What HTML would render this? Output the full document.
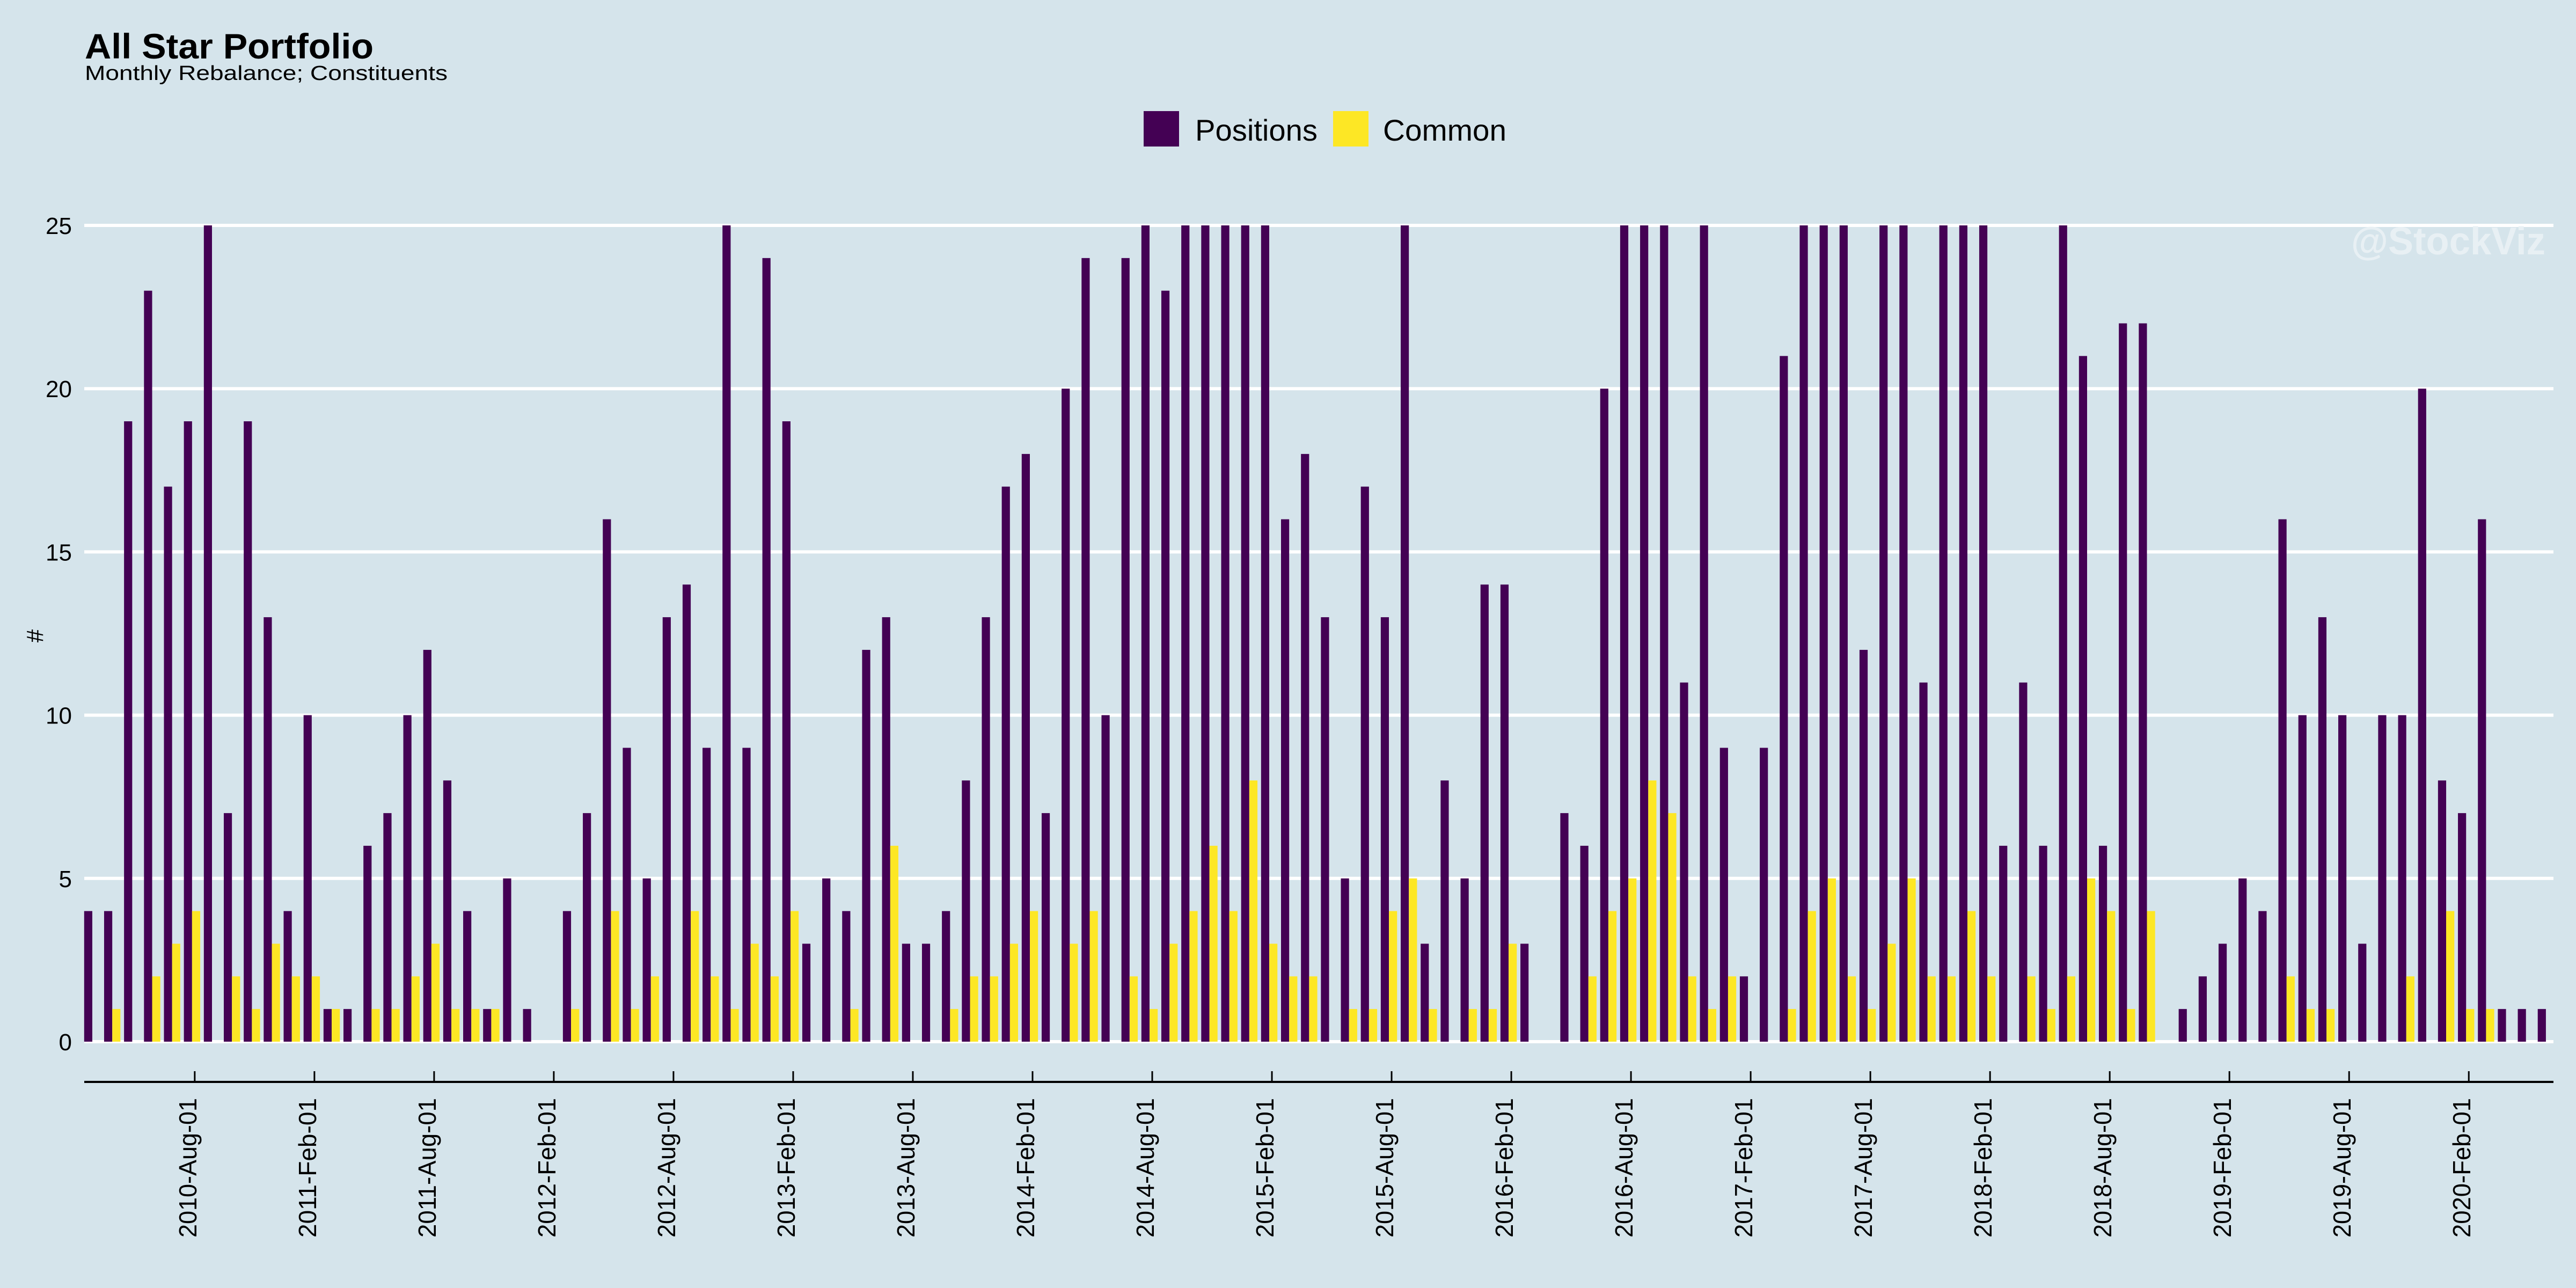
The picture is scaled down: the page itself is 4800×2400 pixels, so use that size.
<!DOCTYPE html>
<html><head><meta charset="utf-8"><style>
html,body{margin:0;padding:0;background:#d5e4eb;}
svg{display:block;font-family:"Liberation Sans",Arial,sans-serif;}
</style></head><body>
<svg id="chart" width="4800" height="2400" viewBox="0 0 4800 2400" xmlns="http://www.w3.org/2000/svg">
<rect x="0" y="0" width="4800" height="2400" fill="#d5e4eb"/>
<text x="158" y="109" font-size="66" font-weight="bold" textLength="538" lengthAdjust="spacingAndGlyphs">All Star Portfolio</text>
<text x="158" y="149" font-size="38" textLength="676" lengthAdjust="spacingAndGlyphs">Monthly Rebalance; Constituents</text>
<g>
<rect x="2131" y="207" width="66" height="66" fill="#440154"/>
<text x="2227" y="262" font-size="56" textLength="228" lengthAdjust="spacingAndGlyphs">Positions</text>
<rect x="2484" y="207" width="66" height="66" fill="#FDE725"/>
<text x="2577" y="262" font-size="56" textLength="230" lengthAdjust="spacingAndGlyphs">Common</text>
</g>
<g id="grid"></g>
<g id="ylabels"></g>
<text transform="translate(80,1185) rotate(-90)" font-size="44" text-anchor="middle">#</text>
<text x="4743" y="474" font-size="72" font-weight="bold" fill="#e8f0f4" text-anchor="end" textLength="362" lengthAdjust="spacingAndGlyphs">@StockViz</text>
<g id="bars"></g>
<line x1="157" y1="2016" x2="4758" y2="2016" stroke="#000" stroke-width="4"/>
<g id="xaxis"></g>
</svg>
<script>
const positions = [4,4,19,23,17,19,25,7,19,13,4,10,1,1,6,7,10,12,8,4,1,5,1,
0,
4,7,16,9,5,13,14,9,25,9,24,19,3,5,4,12,13,
3,3,4,8,13,17,18,7,20,24,10,24,25,23,25,25,25,25,25,16,18,13,5,17,13,25,3,8,5,14,14,3,
0,
7,6,20,25,25,25,11,25,9,2,9,21,25,25,25,12,25,25,11,25,25,25,6,11,6,25,21,6,22,22,
0,
1,2,3,5,4,16,10,13,10,3,10,10,20,8,7,16,1,1,1];
const common = [0,1,0,2,3,4,0,2,1,3,2,2,1,0,1,1,2,3,1,1,1,0,0,
0,
1,0,4,1,2,0,4,2,1,3,2,4,0,0,1,0,6,
0,0,1,2,2,3,4,0,3,4,0,2,1,3,4,6,4,8,3,2,2,0,1,1,4,5,1,0,1,1,3,0,
0,
0,2,4,5,8,7,2,1,2,0,0,1,4,5,2,1,3,5,2,2,4,2,0,2,1,2,5,4,1,4,
0,
0,0,0,0,0,2,1,1,0,0,0,2,0,4,1,1,0,0,0];
const yTicks = [0,5,10,15,20,25];
const xTickLabels = ["2010-Aug-01","2011-Feb-01","2011-Aug-01","2012-Feb-01","2012-Aug-01","2013-Feb-01","2013-Aug-01","2014-Feb-01","2014-Aug-01","2015-Feb-01","2015-Aug-01","2016-Feb-01","2016-Aug-01","2017-Feb-01","2017-Aug-01","2018-Feb-01","2018-Aug-01","2019-Feb-01","2019-Aug-01","2020-Feb-01"];
const xTickMonthIndex = [5,11,17,23,29,35,41,47,53,59,65,71,77,83,89,95,101,107,113,119];

const NS = "http://www.w3.org/2000/svg";
const Y0 = 1941, UNIT = (1941 - 420) / 25;
function yScale(v){ return Y0 - v * UNIT; }
function xScale(i){ return 172 + i * 37.17; }
const BW = 15.2;

const grid = document.getElementById('grid');
const ylab = document.getElementById('ylabels');
yTicks.forEach(function(t){
  const l = document.createElementNS(NS,'line');
  l.setAttribute('x1',157); l.setAttribute('x2',4758);
  l.setAttribute('y1',yScale(t)); l.setAttribute('y2',yScale(t));
  l.setAttribute('stroke','#ffffff'); l.setAttribute('stroke-width',6);
  
  
  grid.appendChild(l);
  const tx = document.createElementNS(NS,'text');
  tx.setAttribute('x',134); tx.setAttribute('y',yScale(t)+16);
  tx.setAttribute('text-anchor','end'); tx.setAttribute('font-size',44);
  tx.textContent = String(t);
  
  
  ylab.appendChild(tx);
});

const bars = document.getElementById('bars');
positions.forEach(function(v,i){
  if (v > 0) {
    const r = document.createElementNS(NS,'rect');
    r.setAttribute('x', xScale(i) - BW); r.setAttribute('width', BW);
    r.setAttribute('y', yScale(v)); r.setAttribute('height', Y0 - yScale(v));
    r.setAttribute('fill','#440154');
    
    
    bars.appendChild(r);
  }
});
common.forEach(function(v,i){
  if (v > 0) {
    const r = document.createElementNS(NS,'rect');
    r.setAttribute('x', xScale(i)); r.setAttribute('width', BW);
    r.setAttribute('y', yScale(v)); r.setAttribute('height', Y0 - yScale(v));
    r.setAttribute('fill','#FDE725');
    
    
    bars.appendChild(r);
  }
});

const xaxis = document.getElementById('xaxis');
xTickLabels.forEach(function(lab,k){
  const x = xScale(xTickMonthIndex[k]) + 5;
  const t = document.createElementNS(NS,'line');
  t.setAttribute('x1',x); t.setAttribute('x2',x);
  t.setAttribute('y1',1996); t.setAttribute('y2',2016);
  t.setAttribute('stroke','#000'); t.setAttribute('stroke-width',3);
  
  
  xaxis.appendChild(t);
  const tx = document.createElementNS(NS,'text');
  tx.setAttribute('transform','translate(' + (x + 3) + ',2046) rotate(-90)');
  tx.setAttribute('text-anchor','end'); tx.setAttribute('font-size',46);
  tx.setAttribute('textLength',260); tx.setAttribute('lengthAdjust','spacingAndGlyphs');
  tx.textContent = lab;
  
  
  xaxis.appendChild(tx);
});
</script>
</body></html>
